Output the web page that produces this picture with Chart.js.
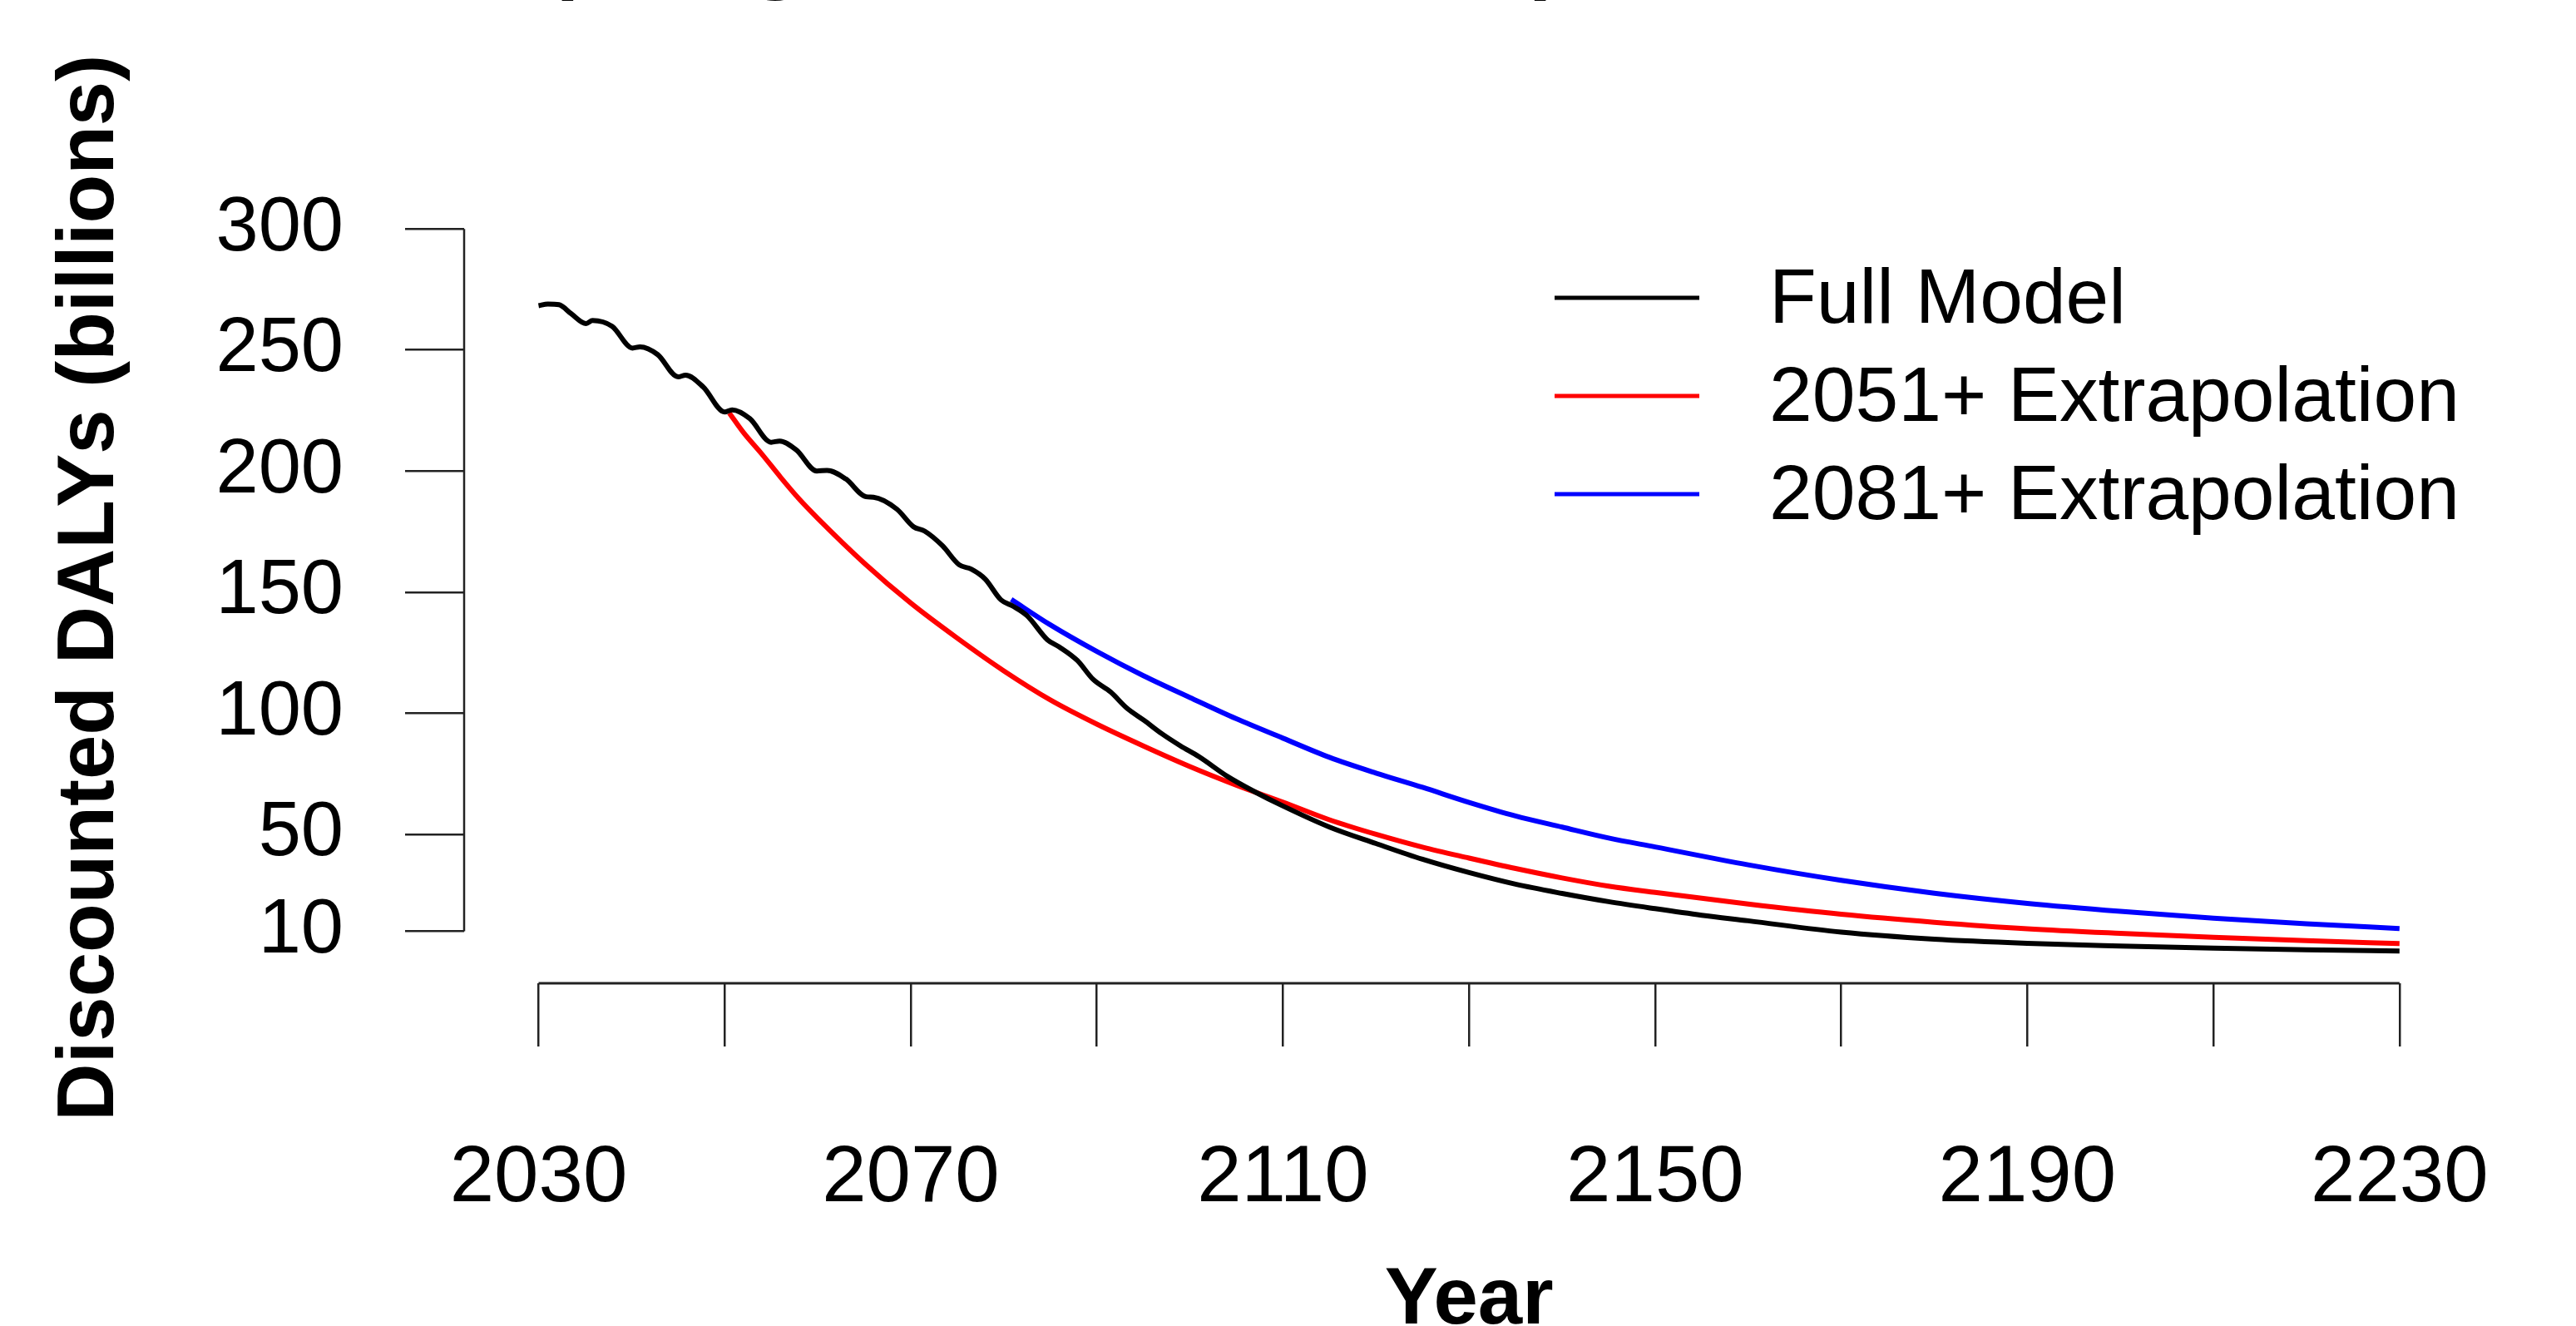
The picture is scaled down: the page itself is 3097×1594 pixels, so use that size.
<!DOCTYPE html>
<html>
<head>
<meta charset="utf-8">
<title>Comparing Full Model to Extrapolated Results</title>
<script src="https://cdn.jsdelivr.net/npm/chart.js@4.4.1/dist/chart.umd.min.js"></script>
<style>
html, body { margin: 0; padding: 0; background: #fff; overflow: hidden; }
/* the reference is a cropped picture: title and x title run off the edges */
#wrap { position: absolute; left: 0; top: -100px; width: 3097px; height: 1800px; }
</style>
</head>
<body>
<div id="wrap"><canvas id="daly-chart"></canvas></div>
<script>
const chart_title = 'Comparing Full Model to Extrapolated Results';
const series_labels = ['Full Model', '2051+ Extrapolation', '2081+ Extrapolation'];
const series_colors = ['#000000', '#ff0000', '#0000ff'];

// full model (black)
const full_years = [2030, 2031, 2032.2, 2033.5, 2035.1, 2035.8, 2037.9, 2040.1, 2040.9, 2042.8,
    2045, 2045.8, 2047.7, 2050, 2050.8, 2052.7, 2055, 2055.9, 2057.7, 2059.9,
    2061, 2063, 2065.2, 2066, 2068.5, 2070.3, 2071.5, 2073.4, 2075.2, 2076.5,
    2078, 2079.7, 2081, 2082.5, 2084.7, 2086, 2087.9, 2089.6, 2091.5, 2093.2,
    2095.1, 2097, 2099, 2101, 2104, 2107, 2110, 2115, 2120, 2125,
    2130, 2135, 2140, 2145, 2150, 2155, 2160, 2170, 2180, 2190,
    2200, 2210, 2220, 2230];
const full_values = [268.3, 269, 268.7, 265, 260.9, 262.2, 259.8, 250.8, 251.3, 248.1,
    238.9, 239.6, 234.7, 224.4, 225.3, 221.7, 211.9, 212.4, 208.7, 200,
    200.3, 196.8, 189.4, 189.2, 184.3, 177, 175.2, 169.2, 161.3, 159.5,
    155.4, 146.8, 144.2, 140.3, 130.3, 127.3, 121.8, 114, 108.7, 102.2,
    97, 91.5, 86.5, 82, 74, 67.5, 61.7, 53, 46.2, 39.7,
    34.2, 29.4, 25.6, 22.2, 19.3, 16.6, 14.3, 9.6, 6.7, 5,
    3.9, 3, 2.3, 1.8];

// 2051+ extrapolation (red)
const red_years = [2050.5, 2052, 2054, 2056, 2058, 2060, 2065, 2070, 2075, 2080,
    2085, 2090, 2095, 2100, 2105, 2110, 2115, 2120, 2125, 2130,
    2135, 2140, 2145, 2150, 2160, 2170, 2180, 2190, 2200, 2210,
    2220, 2230];
const red_values = [224, 216, 207, 197.5, 188.5, 180.5, 162, 145.5, 131, 117.5,
    105.5, 95.5, 86.5, 78, 70.3, 63.3, 56, 50, 44.7, 40.2,
    35.9, 32, 28.6, 26, 21.2, 17, 13.7, 11, 9.1, 7.5,
    6.1, 4.9];

// 2081+ extrapolation (blue)
const blue_years = [2080.8, 2085, 2090, 2095, 2100, 2105, 2110, 2115, 2120, 2125,
    2130, 2135, 2140, 2145, 2150, 2160, 2170, 2180, 2190, 2200,
    2210, 2220, 2230];
const blue_values = [147, 136.5, 125.5, 115.5, 106.5, 97.7, 89.7, 81.8, 75.3, 69.4,
    63.2, 57.6, 53, 48.5, 44.8, 37.4, 31, 25.7, 21.5, 18.2,
    15.4, 13.1, 11.1];

const x_ticks = [2030, 2050, 2070, 2090, 2110, 2130, 2150, 2170, 2190, 2210, 2230];
const x_tick_labels = [2030, 2070, 2110, 2150, 2190, 2230];
const y_ticks = [10, 50, 100, 150, 200, 250, 300];

function toPoints(xs, ys) {
    return xs.map(function(x, i) { return {x: x, y: ys[i]}; });
}

Chart.defaults.font.family = "'Liberation Sans', Arial, sans-serif";
Chart.defaults.color = '#000';

// R style axis lines (only from first to last tick) and the legend box
const rStyle = {
    id: 'rStyle',
    afterDraw(chart) {
        const ctx = chart.ctx;
        const xs = chart.scales.x, ys = chart.scales.y;
        const area = chart.chartArea;
        ctx.save();
        ctx.strokeStyle = '#222';
        ctx.lineWidth = 3;
        ctx.beginPath();
        ctx.moveTo(xs.getPixelForValue(x_ticks[0]), area.bottom);
        ctx.lineTo(xs.getPixelForValue(x_ticks[x_ticks.length - 1]), area.bottom);
        ctx.stroke();
        ctx.lineWidth = 2.5;
        ctx.beginPath();
        ctx.moveTo(area.left, ys.getPixelForValue(y_ticks[0]));
        ctx.lineTo(area.left, ys.getPixelForValue(y_ticks[y_ticks.length - 1]));
        ctx.stroke();

        // legend
        ctx.font = "93px 'Liberation Sans', Arial, sans-serif";
        ctx.textBaseline = 'middle';
        ctx.textAlign = 'left';
        chart.data.datasets.forEach(function(ds, i) {
            const y = 458 + i * 118;
            ctx.strokeStyle = ds.borderColor;
            ctx.lineWidth = 5;
            ctx.beginPath();
            ctx.moveTo(1869, y);
            ctx.lineTo(2043, y);
            ctx.stroke();
            ctx.fillStyle = '#000';
            ctx.fillText(ds.label, 2127, y + 4);
        });
        ctx.restore();
    }
};

const chart_daly = new Chart(document.getElementById('daly-chart'), {
    type: 'line',
    data: {
        datasets: [
            { label: series_labels[0], data: toPoints(full_years, full_values) },
            { label: series_labels[1], data: toPoints(red_years, red_values) },
            { label: series_labels[2], data: toPoints(blue_years, blue_values) }
        ].map(function(ds, i) {
            ds.borderColor = series_colors[i];
            ds.backgroundColor = series_colors[i];
            ds.borderWidth = 6;
            ds.pointRadius = 0;
            ds.fill = false;
            ds.cubicInterpolationMode = 'monotone';
            return ds;
        })
    },
    options: {
        responsive: true,
        maintainAspectRatio: false,
        animation: false,
        events: [],
        layout: { padding: { top: 0, right: 92, bottom: 0, left: 0 } },
        plugins: {
            legend: { display: false },
            tooltip: { enabled: false },
            title: {
                display: true,
                text: chart_title,
                color: '#000',
                font: { family: "'Open Sans', sans-serif", size: 91, weight: 'bold', lineHeight: 1.0 },
                padding: { top: 8, bottom: 232.5 }
            }
        },
        scales: {
            x: {
                type: 'linear',
                min: 2022,
                max: 2238,
                afterBuildTicks: function(scale) {
                    scale.ticks = x_ticks.map(function(v) { return {value: v}; });
                },
                afterFit: function(scale) { scale.height = 518; },
                border: { display: false },
                grid: { drawOnChartArea: false, drawTicks: true, tickLength: 76, color: '#222', lineWidth: 2.5 },
                ticks: {
                    autoSkip: false,
                    maxRotation: 0,
                    padding: 102,
                    font: { size: 96 },
                    callback: function(value) {
                        return x_tick_labels.indexOf(value) >= 0 ? String(value) : '';
                    }
                },
                title: {
                    display: true,
                    text: 'Year',
                    font: { size: 96, weight: 'bold' },
                    padding: { top: 0, bottom: 78 }
                }
            },
            y: {
                type: 'linear',
                min: -11.5,
                max: 315,
                afterBuildTicks: function(scale) {
                    scale.ticks = y_ticks.map(function(v) { return {value: v}; });
                },
                afterFit: function(scale) { scale.width = 558; },
                border: { display: false },
                grid: { drawOnChartArea: false, drawTicks: true, tickLength: 71, color: '#222', lineWidth: 2.5 },
                ticks: {
                    autoSkip: false,
                    padding: 74,
                    font: { size: 92 },
                    callback: function(value) { return String(value); }
                },
                title: {
                    display: true,
                    text: 'Discounted DALYs (billions)',
                    font: { size: 96, weight: 'bold' },
                    padding: { top: 52, bottom: 0 }
                }
            }
        }
    },
    plugins: [rStyle]
});
</script>
</body>
</html>
